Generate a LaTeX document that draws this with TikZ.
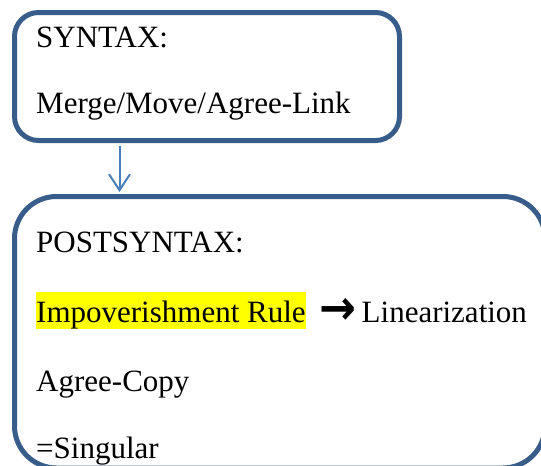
\documentclass[tikz,border=0pt]{standalone}
\usepackage{fontspec}
\setmainfont{Liberation Serif}
\newfontfamily\symfont{DejaVu Sans}
\usetikzlibrary{arrows.meta}
\definecolor{frameblue}{HTML}{385D8A}
\definecolor{linkblue}{HTML}{4A7EBB}
\definecolor{marker}{HTML}{FFFF00}
\tikzset{
  stagebox/.style={draw=frameblue, line width=5pt, fill=white, inner sep=0pt},
  txt/.style={anchor=base west, inner sep=0pt, font=\fontsize{31}{36}\selectfont},
  link/.style={draw=linkblue, line width=2pt,
    -{Straight Barb[length=16pt, width=21pt, line width=2pt]}},
}
\begin{document}
\begin{tikzpicture}[x=1pt, y=-1pt]
  \useasboundingbox (0,0) rectangle (541,466);
  \clip (0,0) rectangle (541,466);

  % the two stages
  \node[stagebox, rounded corners=24pt, minimum width=385pt, minimum height=128pt]
    (syn) at (207,76.5) {};
  \node[stagebox, rounded corners=42pt, minimum width=530.5pt, minimum height=271.5pt]
    (post) at (279.75,332.25) {};

  % connector between the stages
  \draw[link] ([xshift=107.5pt, yshift=-2.5pt]syn.south west)
           -- ([xshift=107.5pt, yshift=2pt]post.north west);

  % syntax stage
  \node[txt] (synhead) at (36,47) {SYNTAX:};
  \node[txt] (synops) at (36,113) {Merge/Move/Agree-Link};

  % postsyntax stage
  \node[txt] (posthead) at (36,252) {POSTSYNTAX:};
  \node[txt, fill=marker, text height=30pt, text depth=7pt] (impov) at (36,322)
    {Impoverishment Rule};
  \node[inner sep=0pt, font=\symfont\bfseries\fontsize{42}{42}\selectfont,
    xscale=1.05, yscale=1.15]
    (then) at (337.5,311) {→};
  \node[txt] (linear) at (361.5,322) {Linearization};
  \node[txt] (copy) at (36,391) {Agree-Copy};
  \node[txt] (sing) at (36,458) {=Singular};
\end{tikzpicture}
\end{document}
